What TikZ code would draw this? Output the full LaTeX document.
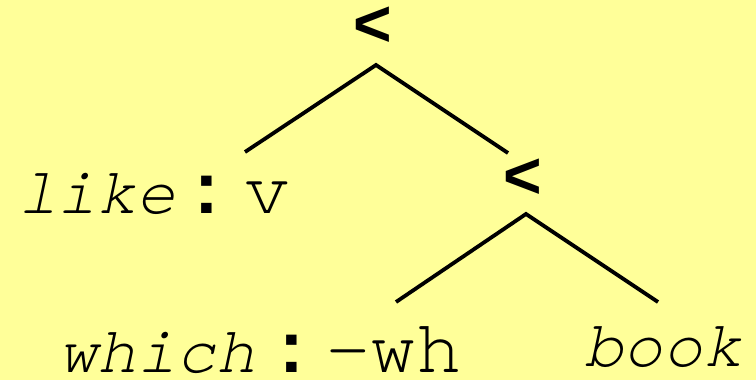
\documentclass[tikz,border=0pt]{standalone}
\usepackage{fontspec}
\setmainfont{Liberation Sans}
% Courier-style typewriter face
\newfontfamily\cursorfont{texgyrecursor}[Extension=.otf,UprightFont=*-regular,ItalicFont=*-italic,BoldFont=*-bold,BoldItalicFont=*-bolditalic]
\definecolor{paper}{HTML}{FFFF99}
\begin{document}
\begin{tikzpicture}[x=1pt,y=-1pt,
  branch/.style={line width=3.8pt},
  opnode/.style={inner sep=0pt,anchor=base,font=\fontsize{66}{66}\selectfont\bfseries},
  word/.style={inner sep=0pt,anchor=base west,font=\fontsize{66}{66}\selectfont\cursorfont\itshape},
  feat/.style={inner sep=0pt,anchor=base west,font=\fontsize{76}{76}\selectfont\cursorfont},
  sep/.style={inner sep=0pt,anchor=base west,font=\fontsize{74}{74}\selectfont\bfseries}]
  \fill[paper] (0,0) rectangle (756,380);
  \useasboundingbox (0,0) rectangle (756,380);
  % operator nodes
  \node[opnode] (top) at (373,46) {<};
  \node[opnode] (mid) at (523,198) {<};
  % leaves
  \node[word] (like) at (18,213) {like};
  \node[sep] (c1) at (194,213) {:};
  \node[feat] (v) at (244,213) {v};
  \node[word] (which) at (58,372) {which};
  \node[sep] (c2) at (279,372) {:};
  \node[feat] (wh) at (325,372) {-wh};
  \node[word] (book) at (584,366) {book};
  % branch end points
  \coordinate (a1) at (376,65);
  \coordinate (l1) at (245,152);
  \coordinate (r1) at (508,153);
  \coordinate (a2) at (526,214);
  \coordinate (l2) at (396,302);
  \coordinate (r2) at (658,302);
  \draw[branch] (l1) -- (a1) -- (r1);
  \draw[branch] (l2) -- (a2) -- (r2);
\end{tikzpicture}
\end{document}
